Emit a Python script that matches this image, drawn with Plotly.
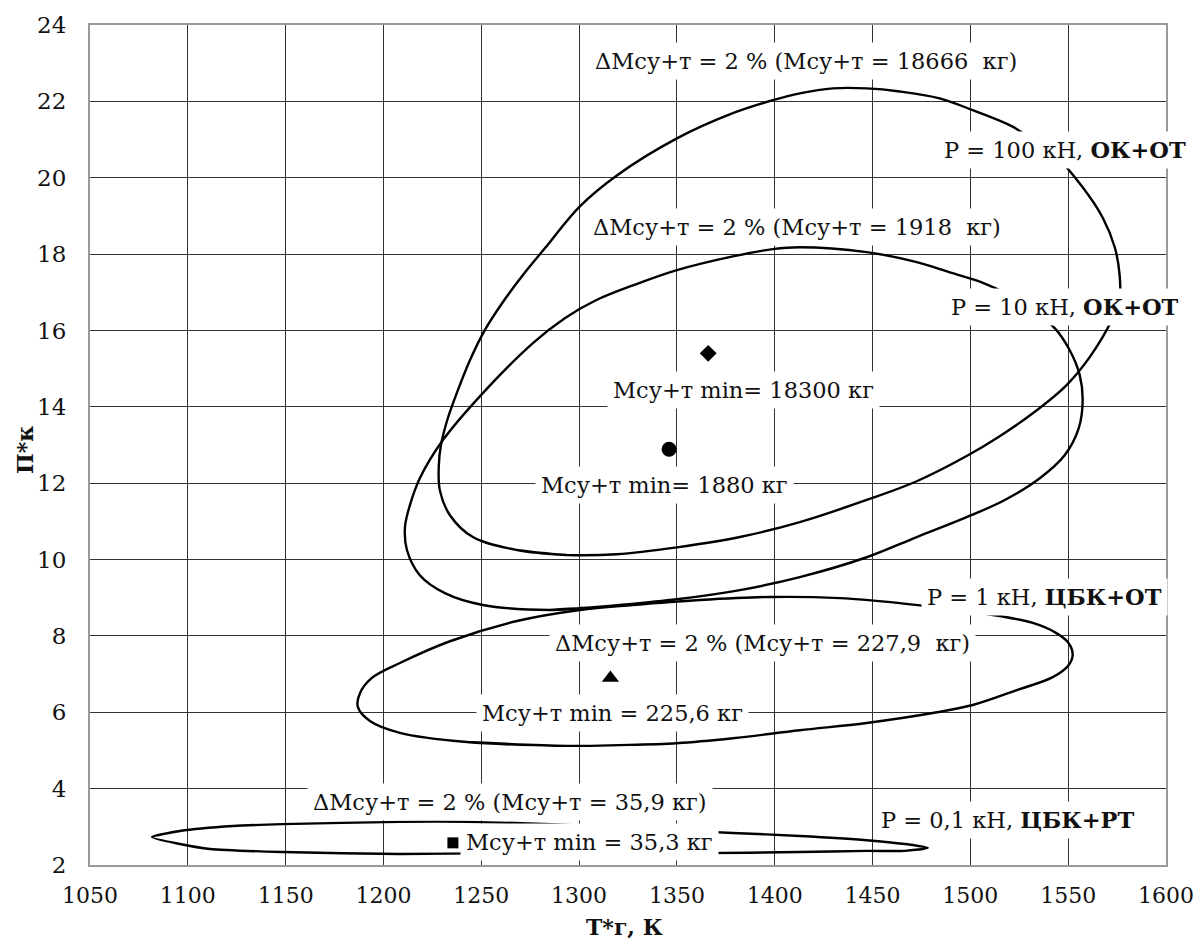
import plotly.graph_objects as go

# ---- data (T*г, K ; П*к) ----
# P = 100 kN, OK+OT  (closed curve ΔMсу+т = 2 %)
t_100 = [1293.7, 1268.2, 1245.7, 1234.0, 1228.8, 1228.3, 1229.4, 1232.9, 1238.0, 1244.2, 1251.8,
         1261.0, 1271.3, 1282.5, 1300.4, 1319.3, 1350.0, 1378.6, 1399.0, 1412.8, 1429.7, 1447.0,
         1463.9, 1484.3, 1501.2, 1521.1, 1532.9, 1544.1, 1557.4, 1567.6, 1573.8, 1576.3, 1576.3,
         1572.7, 1561.0, 1549.2, 1531.9, 1515.0, 1498.1, 1472.6, 1447.0, 1412.8, 1382.2, 1350.0,
         1319.3, 1293.7, 1268.2]
p_100 = [10.12, 10.25, 10.59, 11.16, 11.82, 12.47, 13.00, 13.70, 14.43, 15.22, 16.01,
         16.74, 17.45, 18.15, 19.25, 20.06, 21.03, 21.69, 22.03, 22.21, 22.34, 22.34,
         22.26, 22.08, 21.77, 21.35, 20.95, 20.54, 19.75, 18.96, 18.18, 17.45, 16.84,
         16.32, 15.30, 14.57, 13.83, 13.23, 12.71, 12.05, 11.56, 10.98, 10.59, 10.32,
         10.14, 10.12, 10.25]

# P = 10 kN, OK+OT
t_10 = [1301.9, 1285.1, 1250.8, 1231.4, 1218.6, 1212.0, 1211.0, 1213.5, 1218.6, 1230.4, 1250.8,
        1276.4, 1292.7, 1308.6, 1327.5, 1350.0, 1378.6, 1399.0, 1412.8, 1447.0, 1472.6, 1489.5,
        1505.8, 1520.1, 1531.9, 1543.1, 1550.8, 1555.9, 1557.4, 1555.4, 1548.2, 1535.5, 1517.6,
        1498.1, 1472.6, 1447.0, 1412.8, 1382.2, 1350.0, 1320.8, 1301.9, 1285.1]
p_10 = [8.73, 8.68, 8.81, 9.12, 9.59, 10.25, 10.85, 11.42, 12.13, 13.13, 14.36,
        15.67, 16.32, 16.79, 17.18, 17.58, 17.94, 18.13, 18.18, 18.05, 17.79, 17.52,
        17.26, 16.92, 16.53, 16.06, 15.48, 14.83, 14.17, 13.44, 12.73, 12.13, 11.56,
        11.11, 10.59, 10.06, 9.54, 9.20, 8.96, 8.81, 8.73, 8.68]

# P = 1 kN, ЦБК+ОТ
t_1 = [1293.7, 1242.6, 1208.4, 1193.1, 1186.9, 1188.0, 1194.1, 1208.4, 1234.0, 1268.2, 1300.4,
       1327.5, 1361.7, 1397.5, 1433.3, 1463.9, 1489.5, 1515.0, 1531.9, 1543.1, 1549.8, 1552.3,
       1550.3, 1542.1, 1523.7, 1501.2, 1480.8, 1447.0, 1412.8, 1378.6, 1350.0, 1320.8, 1293.7,
       1242.6]
p_1 = [5.12, 5.22, 5.46, 5.77, 6.14, 6.50, 6.90, 7.29, 7.86, 8.39, 8.68,
       8.81, 8.94, 9.02, 8.99, 8.86, 8.70, 8.52, 8.34, 8.10, 7.84, 7.52,
       7.24, 6.92, 6.58, 6.19, 5.98, 5.72, 5.53, 5.32, 5.19, 5.14, 5.12,
       5.22]

# P = 0,1 kN, ЦБК+РТ
t_01 = [1310.6, 1259.5, 1208.4, 1148.6, 1111.3, 1096.0, 1081.7, 1096.0, 1123.1, 1148.6, 1208.4,
        1242.6, 1293.7, 1344.8, 1378.6, 1412.8, 1447.0, 1466.5, 1478.2, 1466.5, 1447.0, 1412.8,
        1361.7, 1310.6, 1259.5]
p_01 = [2.31, 2.31, 2.29, 2.34, 2.42, 2.55, 2.73, 2.89, 3.02, 3.07, 3.13,
        3.13, 3.05, 2.92, 2.84, 2.76, 2.65, 2.55, 2.45, 2.37, 2.37, 2.34,
        2.31, 2.31, 2.31]

# minimum points
min_names = ["100 кН", "10 кН", "1 кН", "0,1 кН"]
min_t = [1366.0, 1346.0, 1316.0, 1235.5]
min_p = [15.4, 12.89, 6.9, 2.58]
min_symbols = ["diamond", "circle", "triangle-up", "square"]

# labels
label_texts = [
    "ΔMсу+т = 2 % (Mсу+т = 18666\u00a0 кг)",
    "P = 100 кН, <b>ОК+ОТ</b>",
    "ΔMсу+т = 2 % (Mсу+т = 1918\u00a0 кг)",
    "P = 10 кН, <b>ОК+ОТ</b>",
    "Mсу+т min= 18300 кг",
    "Mсу+т min= 1880 кг",
    "P = 1 кН, <b>ЦБК+ОТ</b>",
    "ΔMсу+т = 2 % (Mсу+т = 227,9\u00a0 кг)",
    "Mсу+т min = 225,6 кг",
    "ΔMсу+т = 2 % (Mсу+т = 35,9 кг)",
    "Mсу+т min = 35,3 кг",
    "P = 0,1 кН, <b>ЦБК+РТ</b>",
]
label_t = [1416.1, 1548.5, 1411.5, 1548.5, 1384.2, 1343.6, 1538.0, 1393.6, 1317.0, 1264.9, 1305.2, 1519.1]
label_p = [23.07, 20.72, 18.70, 16.61, 14.43, 11.95, 9.02, 7.81, 5.98, 3.65, 2.60, 3.18]

x_ticks = list(range(1050, 1601, 50))
y_ticks = list(range(2, 25, 2))

FONT = "DejaVu Serif"
fig = go.Figure()

for tt, pp, sm in [(t_100, p_100, 1.0), (t_10, p_10, 1.0), (t_1, p_1, 1.0), (t_01, p_01, 0.7)]:
    fig.add_trace(go.Scatter(x=tt, y=pp, mode="lines",
                             line=dict(color="black", width=2.4, shape="spline", smoothing=sm),
                             showlegend=False, hoverinfo="skip"))

sizes = [13, 15, 15, 11]
for i in range(4):
    fig.add_trace(go.Scatter(x=[min_t[i]], y=[min_p[i]], mode="markers", name=min_names[i],
                             marker=dict(symbol=min_symbols[i], size=sizes[i], color="black"),
                             showlegend=False))

for txt, tx, py in zip(label_texts, label_t, label_p):
    fig.add_annotation(x=tx, y=py, xref="x", yref="y", text=txt, showarrow=False,
                       font=dict(family=FONT, size=22.5, color="#111"),
                       bgcolor="white", borderpad=5)

# axis titles
fig.add_annotation(x=0.497, y=-0.0738, xref="paper", yref="paper", text="<b>Т*г, К</b>",
                   showarrow=False, xanchor="center", yanchor="middle",
                   font=dict(family=FONT, size=22, color="#111"))
fig.add_annotation(x=-0.0604, y=0.494, xref="paper", yref="paper", text="<b>П*к</b>",
                   showarrow=False, xanchor="center", yanchor="middle", textangle=-90,
                   font=dict(family=FONT, size=22, color="#111"))

fig.update_xaxes(range=[1050, 1600], tickvals=x_ticks, showgrid=True, gridcolor="#333",
                 gridwidth=1.3, zeroline=False, showline=True, linecolor="#999", linewidth=2,
                 mirror=True, ticks="", ticklabelstandoff=10, automargin=False,
                 ticklabeloverflow="allow",
                 tickfont=dict(family=FONT, size=22, color="#111"))
fig.update_yaxes(range=[2, 24], tickvals=y_ticks, showgrid=True, gridcolor="#333",
                 gridwidth=1.3, zeroline=False, showline=True, linecolor="#999", linewidth=2,
                 mirror=True, ticks="", ticklabelstandoff=17, automargin=False,
                 tickfont=dict(family=FONT, size=23, color="#111"))

fig.update_layout(width=1196, height=941, margin=dict(l=90, r=30, t=25, b=76),
                  plot_bgcolor="white", paper_bgcolor="white", showlegend=False)

fig.write_html("out.html", config={"displayModeBar": False},
               post_script="document.body.style.margin='0';document.body.style.overflow='hidden';")
